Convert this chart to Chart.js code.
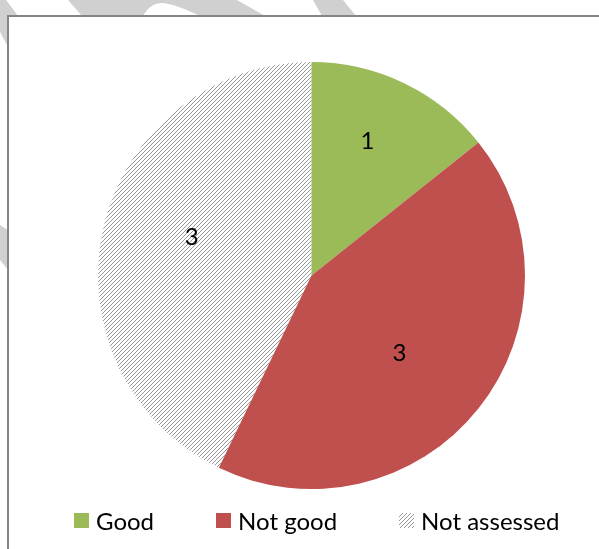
<!DOCTYPE html>
<html>
<head>
<meta charset="utf-8">
<script src="https://cdn.jsdelivr.net/npm/chart.js@4.4.0/dist/chart.umd.min.js"></script>
<style>
    html, body { margin: 0; padding: 0; background: #fff; width: 599px; height: 549px; overflow: hidden; }
    #mark { position: absolute; left: 0; top: 0; }
    #frame { position: absolute; left: 7px; top: 15px; width: 700px; height: 700px; border: 2px solid #858585; background: #fff; }
    #myChart { position: absolute; left: 0; top: 0; }
    #legend { position: absolute; left: 74px; top: 506px; display: flex; align-items: center; column-gap: 62px;
              font: 24px Lato, sans-serif; color: #000; white-space: nowrap; }
    #legend .item { display: flex; align-items: center; }
    #legend .box { width: 15px; height: 15px; margin-right: 7px; }
</style>
</head>
<body>
<svg id="mark" width="599" height="549">
    <g fill="#d0d0d0">
        <polygon points="0,0 6,0 40,45 7,45 0,32"/>
        <polygon points="0,225 9,231 9,271 0,260"/>
        <path d="M68,0 L237,0 L265,16 L200,16 Q175,4 163,3 Q150,3 143,16 L82,16 Z"/>
        <polygon points="313,0 343,0 356,16 322,16"/>
    </g>
</svg>
<div id="frame"></div>
<canvas id="myChart" width="599" height="549"></canvas>
<div id="legend"></div>
<script>
const categories = ['Good', 'Not good', 'Not assessed'];
const counts = [1, 3, 3];
const sliceColors = ['#9bbb59', '#c0504d', null]; // null -> hatched fill
// where each value label sits: fraction of radius, and a nudge off the mid angle (degrees)
const labelRadius = [0.68, 0.55, 0.59];
const labelTurn = [-3, 3, 5];

// small diagonal hatch tile, lines running up to the right
function hatchTile() {
    const c = document.createElement('canvas');
    c.width = 4;
    c.height = 4;
    const g = c.getContext('2d');
    g.fillStyle = '#969696';
    for (let i = 0; i < 4; i++) g.fillRect(3 - i, i, 1, 1);
    return c;
}

const tile = hatchTile();
const ctx = document.getElementById('myChart').getContext('2d');
const hatch = ctx.createPattern(tile, 'repeat');
const fills = sliceColors.map(c => c || hatch);

// legend
const legendEl = document.getElementById('legend');
categories.forEach((name, i) => {
    const item = document.createElement('div');
    item.className = 'item';
    const box = document.createElement('span');
    box.className = 'box';
    if (sliceColors[i]) box.style.background = sliceColors[i];
    else box.style.backgroundImage = 'url(' + tile.toDataURL() + ')';
    const txt = document.createElement('span');
    txt.textContent = name;
    item.appendChild(box);
    item.appendChild(txt);
    legendEl.appendChild(item);
});

// value labels inside each slice
const sliceLabels = {
    id: 'sliceLabels',
    afterDatasetsDraw(chart) {
        const c = chart.ctx;
        const meta = chart.getDatasetMeta(0);
        c.save();
        c.font = '24px Lato';
        c.fillStyle = '#000';
        c.textAlign = 'center';
        c.textBaseline = 'middle';
        meta.data.forEach((arc, i) => {
            const p = arc.getProps(['x', 'y', 'startAngle', 'endAngle', 'outerRadius'], true);
            const mid = (p.startAngle + p.endAngle) / 2 + labelTurn[i] * Math.PI / 180;
            const r = p.outerRadius * labelRadius[i];
            c.fillText(String(counts[i]), p.x + Math.cos(mid) * r, p.y + Math.sin(mid) * r);
        });
        c.restore();
    }
};

function draw() {
    new Chart(ctx, {
        type: 'pie',
        data: {
            labels: categories,
            datasets: [{
                data: counts,
                backgroundColor: fills,
                borderWidth: 0,
                hoverOffset: 0
            }]
        },
        options: {
            responsive: false,
            animation: false,
            devicePixelRatio: 1,
            layout: { padding: { top: 62, bottom: 60, left: 24, right: 0 } },
            plugins: {
                legend: { display: false },
                tooltip: { enabled: false }
            }
        },
        plugins: [sliceLabels]
    });
}

// canvas text needs the font ready before the first paint
document.fonts.load('24px Lato').then(draw, draw);
</script>
</body>
</html>
